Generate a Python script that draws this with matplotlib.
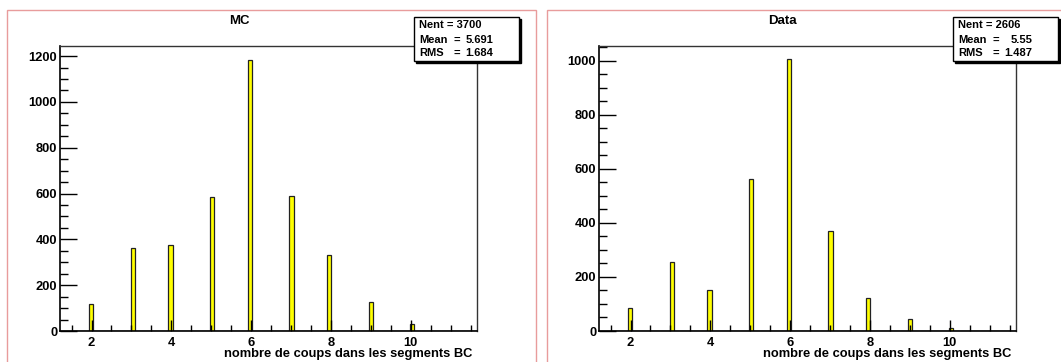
import numpy as np
import matplotlib
matplotlib.use("Agg")
import matplotlib.pyplot as plt
from matplotlib.patches import Rectangle

# ---- data ----
hits = [2, 3, 4, 5, 6, 7, 8, 9, 10, 11]
mc_counts = [120, 364, 374, 583, 1185, 589, 330, 125, 30, 2]
data_counts = [84, 254, 152, 561, 1005, 371, 123, 44, 10, 0]
titles = ["MC", "Data"]
stats_mc = ["3700", "5.691", "1.684"]
stats_data = ["2606", "5.55", "1.487"]
xlabel = "nombre de coups dans les segments BC"

# histogram binning (ROOT-like)
x_lo, x_hi, nbins = 1.21, 11.66, 100
edges = np.linspace(x_lo, x_hi, nbins + 1)

W, H = 1061, 362
fig = plt.figure(figsize=(W / 100, H / 100), dpi=100)
plt.rcParams['font.family'] = ['Liberation Sans', 'DejaVu Sans']
plt.rcParams['font.weight'] = 'bold'

def fx(px):
    return px / W

def fy(py):
    return 1 - py / H

pink = '#e89c9c'
# pad borders
fig.patches.append(Rectangle((fx(7), fy(400)), fx(536 - 7), (400 - 10) / H,
                             transform=fig.transFigure, fill=False,
                             edgecolor=pink, linewidth=1.0))
fig.patches.append(Rectangle((fx(547), fy(400)), fx(1100 - 547), (400 - 10) / H,
                             transform=fig.transFigure, fill=False,
                             edgecolor=pink, linewidth=1.0))

panels = [
    dict(left=60, counts=mc_counts, ylim=1244, title=titles[0], title_x=239,
         stats=stats_mc, box_left=414, ymajor=200),
    dict(left=599, counts=data_counts, ylim=1054, title=titles[1], title_x=782,
         stats=stats_data, box_left=953, ymajor=200),
]

ax_w, ax_top, ax_bot = 417, 46, 331
for p in panels:
    ax = fig.add_axes([fx(p['left']), fy(ax_bot), fx(ax_w), (ax_bot - ax_top) / H])
    ax.hist(hits, bins=edges, weights=p['counts'], histtype='stepfilled',
            facecolor='#ffff00', edgecolor='#222222', linewidth=0.9)
    ax.set_xlim(x_lo, x_hi)
    ax.set_ylim(0, p['ylim'])
    ax.set_xticks([2, 4, 6, 8, 10])
    ax.set_xticks(np.arange(1.5, 11.6, 0.5), minor=True)
    ax.set_yticks(np.arange(0, p['ylim'], p['ymajor']))
    ax.set_yticks(np.arange(0, p['ylim'], 50), minor=True)
    ax.tick_params(axis='x', which='major', direction='in', length=8, width=1,
                   pad=4, labelsize=9.3)
    ax.tick_params(axis='x', which='minor', direction='in', length=4, width=1)
    ax.tick_params(axis='y', which='major', direction='in', length=12, width=1,
                   pad=2, labelsize=9.3)
    ax.tick_params(axis='y', which='minor', direction='in', length=6, width=1)
    for lab in ax.get_xticklabels() + ax.get_yticklabels():
        lab.set_fontweight('bold')
    for s in ['left', 'bottom']:
        ax.spines[s].set_linewidth(1.2)
        ax.spines[s].set_color('black')
    for s in ['top', 'right']:
        ax.spines[s].set_linewidth(1.0)
        ax.spines[s].set_color('#333333')
    ax.set_zorder(2)

    # x label
    ax.text(1 - 5 / ax_w, -(354 - ax_bot) / (ax_bot - ax_top), xlabel,
            transform=ax.transAxes, ha='right', va='center', fontsize=9.3,
            fontweight='bold')
    # title
    fig.text(fx(p['title_x']), fy(21), p['title'], ha='center', va='center',
             fontsize=9.5, fontweight='bold')

    # stats box with shadow
    bl, bt, bw, bh = p['box_left'], 17, 105, 44
    fig.patches.append(Rectangle((fx(bl + 2), fy(bt + bh + 2)), fx(bw), bh / H,
                                 transform=fig.transFigure, facecolor='black',
                                 edgecolor='black', zorder=5))
    fig.patches.append(Rectangle((fx(bl), fy(bt + bh)), fx(bw), bh / H,
                                 transform=fig.transFigure, facecolor='white',
                                 edgecolor='black', linewidth=1.0, zorder=6))
    names = ["Nent", "Mean", "RMS"]
    ys = [25, 40, 53]
    fs = 8
    fig.text(fx(bl + 5), fy(ys[0]), "Nent = " + p['stats'][0], ha='left',
             va='center', fontsize=fs, fontweight='bold', zorder=7)
    for name, val, yy in zip(names[1:], p['stats'][1:], ys[1:]):
        fig.text(fx(bl + 5), fy(yy), name, ha='left', va='center', fontsize=fs,
                 fontweight='bold', zorder=7)
        fig.text(fx(bl + 43), fy(yy), "=", ha='center', va='center', fontsize=fs,
                 fontweight='bold', zorder=7)
        fig.text(fx(bl + 79), fy(yy), val, ha='right', va='center', fontsize=fs,
                 fontweight='bold', zorder=7)

fig.savefig("out.png", dpi=100)
